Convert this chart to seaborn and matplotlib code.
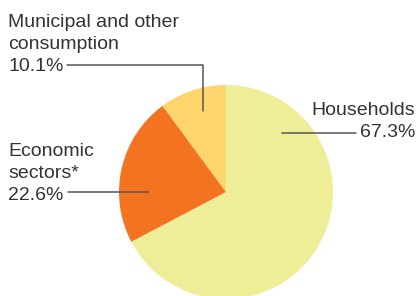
import seaborn as sns
import matplotlib.pyplot as plt

# Shares of water consumption
labels = ['Households', 'Economic\nsectors*', 'Municipal and other\nconsumption']
shares = [67.3, 22.6, 10.1]
colors = ['#EEEE99', '#F37321', '#FDD56C']

sns.set_theme(style='white')
plt.rcParams['font.family'] = ['Liberation Sans', 'DejaVu Sans']

W, H = 419, 296
fig = plt.figure(figsize=(W / 100, H / 100), dpi=100)
ax = fig.add_axes([0, 0, 1, 1])

# pie in pixel-like coordinates (y up)
cx, cy, r = 226, H - 192, 107
ax.pie(shares, colors=colors, startangle=90, counterclock=False,
       center=(cx, cy), radius=r, wedgeprops=dict(linewidth=0))
ax.set_xlim(0, W)
ax.set_ylim(0, H)
ax.set_aspect('equal')
ax.axis('off')

txt = dict(fontsize=14, color='#333333', linespacing=1.37)
line = dict(color='#555555', lw=1.1)

# Municipal label + leader (y given for baseline of last line)
ax.text(8, H - 71, f'{labels[2]}\n{shares[2]}%', ha='left', va='baseline', **txt)
ax.plot([67, 203, 203], [H - 65, H - 65, H - 111], **line)

# Economic sectors
ax.text(8, H - 200, f'{labels[1]}\n{shares[1]}%', ha='left', va='baseline', **txt)
ax.plot([68, 149], [H - 192, H - 192], **line)

# Households
ax.text(415, H - 137, f'{labels[0]}\n{shares[0]}%', ha='right', va='baseline',
        multialignment='right', **txt)
ax.plot([282, 356], [H - 133, H - 133], **line)

fig.savefig('out.png', dpi=100)
